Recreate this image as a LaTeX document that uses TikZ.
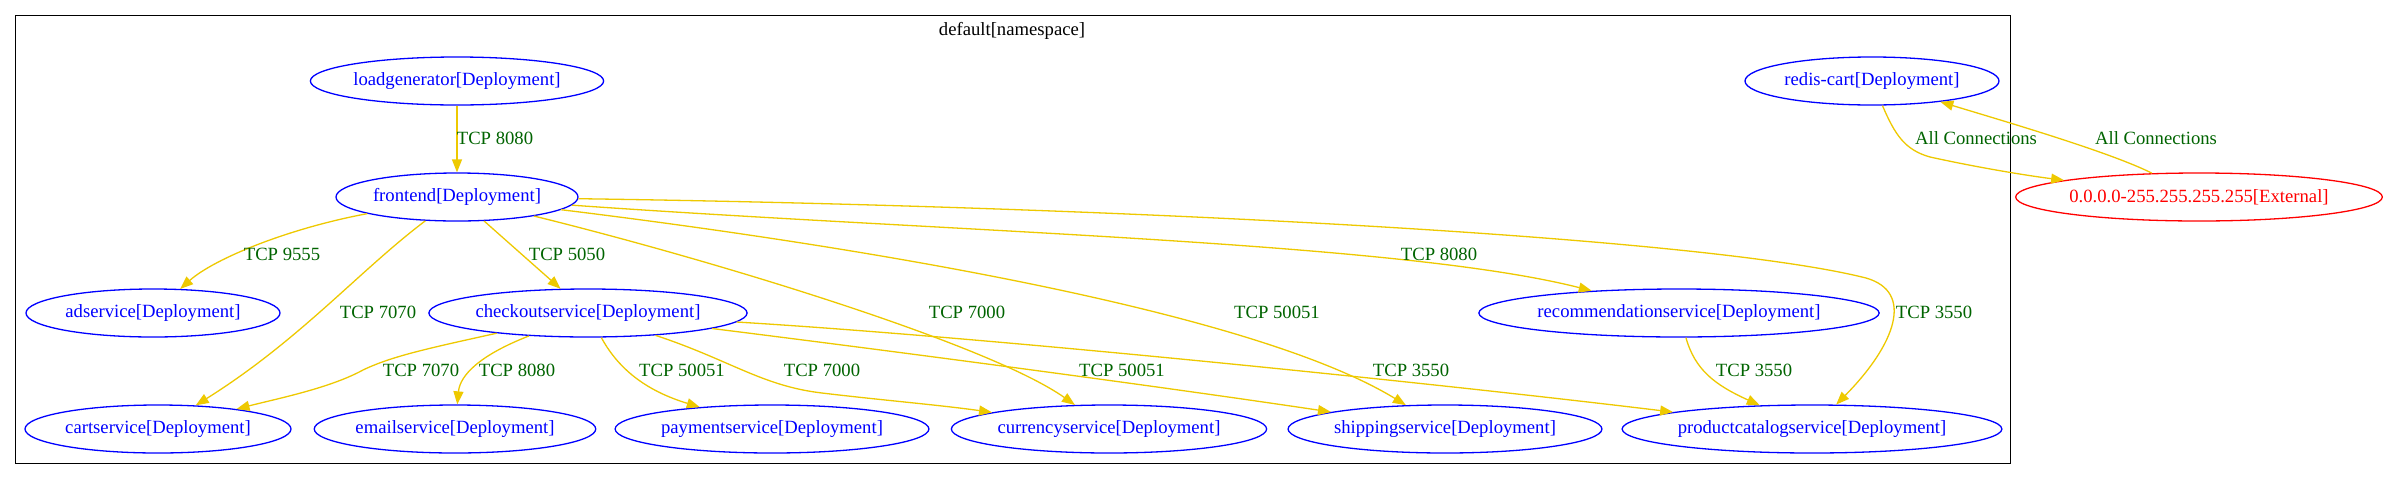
\documentclass[tikz,border=0pt]{standalone}
\usepackage{fontspec}
\setmainfont{Liberation Serif}
\usetikzlibrary{arrows.meta,shapes.geometric}
\definecolor{edgegold}{HTML}{EEC900}
\definecolor{lblgreen}{HTML}{006400}
\definecolor{nodeblue}{HTML}{0000FF}
\definecolor{extred}{HTML}{FF0000}
\tikzset{
  svc/.style={ellipse, draw=nodeblue, text=nodeblue, line width=1.3pt, minimum height=48pt,
    inner sep=0pt, font=\fontsize{18.67}{20}\selectfont},
  extnode/.style={svc, draw=extred, text=extred},
  flow/.style={draw=edgegold, line width=1.3pt, -{Triangle[length=13pt,width=10pt]}},
  lbl/.style={text=lblgreen, inner sep=0pt, font=\fontsize{18.67}{20}\selectfont},
  ttl/.style={text=black, inner sep=0pt, font=\fontsize{18.67}{20}\selectfont},
}
\begin{document}
\begin{tikzpicture}[x=1pt,y=-1pt]
\useasboundingbox (0,0) rectangle (2383,480);
\fill[white] (0,0) rectangle (2383,480);
\draw[black, line width=1pt] (15,15) rectangle (2010,463);
\node[ttl] (title) at (1012,31) {default[namespace]};

% nodes
\node[svc, minimum width=292pt] (load) at (457,81) {loadgenerator[Deployment]};
\node[svc, minimum width=254pt] (redis) at (1872,81) {redis-cart[Deployment]};
\node[svc, minimum width=242pt] (front) at (457,197) {frontend[Deployment]};
\node[extnode, minimum width=358pt] (ext) at (2199,197) {0.0.0.0-255.255.255.255[External]};
\node[svc, minimum width=254pt] (ad) at (153,313) {adservice[Deployment]};
\node[svc, minimum width=316pt] (checkout) at (588,313) {checkoutservice[Deployment]};
\node[svc, minimum width=390pt] (rec) at (1679,313) {recommendationservice[Deployment]};
\node[svc, minimum width=266pt] (cart) at (158,429) {cartservice[Deployment]};
\node[svc, minimum width=280pt] (email) at (455,429) {emailservice[Deployment]};
\node[svc, minimum width=310pt] (pay) at (772,429) {paymentservice[Deployment]};
\node[svc, minimum width=314pt] (cur) at (1109,429) {currencyservice[Deployment]};
\node[svc, minimum width=310pt] (ship) at (1445,429) {shippingservice[Deployment]};
\node[svc, minimum width=374pt] (pc) at (1812,429) {productcatalogservice[Deployment]};

% edges
\draw[flow] (load) -- (front);
\draw[flow] (front) .. controls (290,228) and (215,258) .. (ad);
\draw[flow] (front) .. controls (360,270) and (300,340) .. (cart);
\draw[flow] (front) -- (checkout);
\draw[flow] (front) .. controls (720,262) and (990,345) .. (cur);
\draw[flow] (front) .. controls (850,245) and (1250,310) .. (ship);
\draw[flow] (front) .. controls (950,232) and (1400,242) .. (rec);
\draw[flow] (front) .. controls (1100,206) and (1700,236) .. (1866,278)
  .. controls (1915,292) and (1895,345) .. (pc);
\draw[flow] (checkout) .. controls (430,348) and (392,356) .. (363,370)
  .. controls (330,388) and (280,398) .. (cart);
\draw[flow] (checkout) .. controls (480,355) and (460,375) .. (email);
\draw[flow] (checkout) .. controls (620,372) and (650,392) .. (pay);
\draw[flow] (checkout) .. controls (730,360) and (762,386) .. (822,393)
  .. controls (880,400) and (940,405) .. (cur);
\draw[flow] (checkout) .. controls (900,352) and (1150,385) .. (ship);
\draw[flow] (checkout) .. controls (1000,338) and (1450,385) .. (pc);
\draw[flow] (rec) .. controls (1695,370) and (1715,385) .. (pc);
\draw[flow] (redis) .. controls (1895,135) and (1905,150) .. (1930,157)
  .. controls (1980,168) and (2030,176) .. (ext);
\draw[flow] (ext) .. controls (2110,152) and (2000,120) .. (redis);

% labels
\node[lbl] (l1) at (495,138) {TCP 8080};
\node[lbl] (l2) at (282,254) {TCP 9555};
\node[lbl] (l3) at (378,312) {TCP 7070};
\node[lbl] (l4) at (567,254) {TCP 5050};
\node[lbl] (l5) at (967,312) {TCP 7000};
\node[lbl] (l6) at (1277,312) {TCP 50051};
\node[lbl] (l7) at (1439,254) {TCP 8080};
\node[lbl] (l8) at (1934,312) {TCP 3550};
\node[lbl] (l9) at (421,370) {TCP 7070};
\node[lbl] (l10) at (517,370) {TCP 8080};
\node[lbl] (l11) at (682,370) {TCP 50051};
\node[lbl] (l12) at (822,370) {TCP 7000};
\node[lbl] (l13) at (1122,370) {TCP 50051};
\node[lbl] (l14) at (1411,370) {TCP 3550};
\node[lbl] (l15) at (1754,370) {TCP 3550};
\node[lbl] (l16) at (1976,138) {All Connections};
\node[lbl] (l17) at (2156,138) {All Connections};
\end{tikzpicture}
\end{document}
